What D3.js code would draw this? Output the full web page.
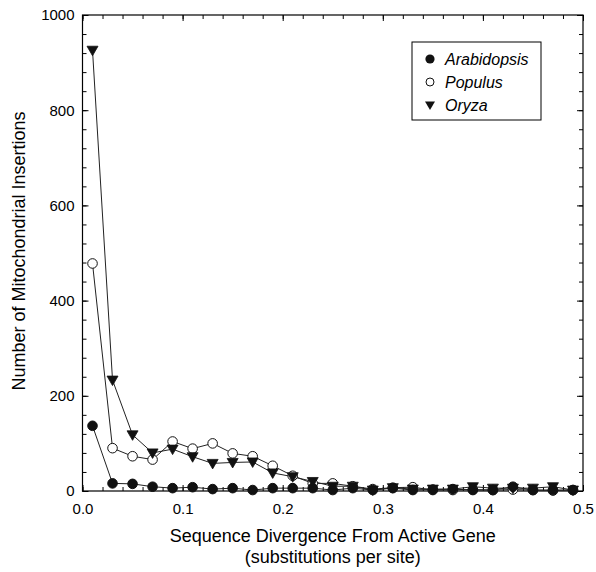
<!DOCTYPE html>
<html><head><meta charset="utf-8">
<script src="https://cdn.jsdelivr.net/npm/d3@7"></script>
<style>body{margin:0;background:#fff;}svg{display:block;font-family:"Liberation Sans",Arial,sans-serif;}</style>
</head><body><div id="chart"></div>
<script>
const xValues = [0.01,0.03,0.05,0.07,0.09,0.11,0.13,0.15,0.17,0.19,0.21,0.23,0.25,0.27,0.29,0.31,0.33,0.35,0.37,0.39,0.41,0.43,0.45,0.47,0.49];
const arabidopsis = [137,16,15,9,6,8,4,6,2,6,6,6,2,6,2,6,2,3,4,2,2,9,2,2,2];
const populus = [478,90,73,66,104,89,100,79,73,53,32,16,16,10,4,7,8,2,2,3,2,3,2,1,2];
const oryza = [926,233,118,80,88,72,58,60,61,38,30,20,10,10,2,7,4,4,4,9,6,6,6,9,2];
const seriesNames = ["Arabidopsis","Populus","Oryza"];
const xTicks = [0,0.1,0.2,0.3,0.4,0.5];
const yTicks = [0,200,400,600,800,1000];

const W=596,H=572;
const m={left:82.5,right:13,top:15,bottom:81};
const svg=d3.select("#chart").append("svg").attr("width",W).attr("height",H);
const x=d3.scaleLinear().domain([0,0.5]).range([m.left,W-m.right]);
const y=d3.scaleLinear().domain([0,1000]).range([H-m.bottom,m.top]);

svg.append("rect").attr("x",x(0)).attr("y",y(1000)).attr("width",x(0.5)-x(0)).attr("height",y(0)-y(1000))
 .attr("fill","none").attr("stroke","#000").attr("stroke-width",1.2);

const xMinor=d3.range(0,0.5001,0.02), yMinor=d3.range(0,1000.1,40);
function tickAxes(){
  const bx=svg.append("g").attr("transform",`translate(0,${y(0)})`)
   .call(d3.axisBottom(x).tickValues(xTicks).tickSize(-6).tickPadding(12).tickFormat(d3.format(".1f")));
  bx.append("g").call(d3.axisBottom(x).tickValues(xMinor).tickSize(-4).tickFormat(""));
  const tx=svg.append("g").attr("transform",`translate(0,${y(1000)})`)
   .call(d3.axisTop(x).tickValues(xTicks).tickSize(-6).tickFormat(""));
  tx.append("g").call(d3.axisTop(x).tickValues(xMinor).tickSize(-4).tickFormat(""));
  const ly=svg.append("g").attr("transform",`translate(${x(0)},0)`)
   .call(d3.axisLeft(y).tickValues(yTicks).tickSize(-6).tickPadding(8).tickFormat(d3.format("d")));
  ly.append("g").call(d3.axisLeft(y).tickValues(yMinor).tickSize(-4).tickFormat(""));
  const ry=svg.append("g").attr("transform",`translate(${x(0.5)},0)`)
   .call(d3.axisRight(y).tickValues(yTicks).tickSize(-6).tickFormat(""));
  ry.append("g").call(d3.axisRight(y).tickValues(yMinor).tickSize(-4).tickFormat(""));
  svg.selectAll(".domain").remove();
  svg.selectAll(".tick line").attr("stroke","#000").attr("stroke-width",1);
  svg.selectAll(".tick text").attr("font-size",15).attr("fill","#000").attr("font-family","Liberation Sans, Arial, sans-serif");
}
tickAxes();

const line=d3.line().x((d,i)=>x(xValues[i])).y(d=>y(d));
const data=[arabidopsis,populus,oryza];
const types=["circleF","circleO","tri"];
data.forEach(s=>{
  svg.append("path").datum(s).attr("d",line).attr("fill","none").attr("stroke","#222").attr("stroke-width",1);
});
function marker(sel,type){
  if(type==="tri"){
    sel.append("path").attr("d","M-5.5,-4 L5.5,-4 L0,5.5 Z").attr("fill","#111").attr("stroke","#111").attr("stroke-width",0.8);
  } else {
    sel.append("circle").attr("r",4.8).attr("fill",type==="circleF"?"#111":"#fff").attr("stroke","#111").attr("stroke-width",1);
  }
}
[1,0,2].forEach(k=>{
  data[k].forEach((v,i)=>{
    const gg=svg.append("g").attr("transform",`translate(${x(xValues[i])},${y(v)})`);
    marker(gg,types[k]);
  });
});

const lg=svg.append("g");
lg.append("rect").attr("x",412).attr("y",42).attr("width",129).attr("height",78).attr("fill","#fff").attr("stroke","#000").attr("stroke-width",1);
seriesNames.forEach((n,i)=>{
  const yy=[59,82,105][i];
  const mg=lg.append("g").attr("transform",`translate(430,${yy})`);
  if(i===0) mg.append("circle").attr("r",4.6).attr("fill","#111");
  else if(i===1) mg.append("circle").attr("r",4).attr("fill","#fff").attr("stroke","#111");
  else mg.append("path").attr("d","M-5,-3.5 L5,-3.5 L0,5 Z").attr("fill","#111");
  lg.append("text").attr("x",445).attr("y",yy+5.5).attr("font-size",16).attr("font-style","italic").text(n);
});

svg.append("text").attr("x",(x(0)+x(0.5))/2).attr("y",542).attr("text-anchor","middle").attr("font-size",18).text("Sequence Divergence From Active Gene");
svg.append("text").attr("x",(x(0)+x(0.5))/2).attr("y",563).attr("text-anchor","middle").attr("font-size",18).text("(substitutions per site)");
svg.append("text").attr("transform",`translate(24.5,251) rotate(-90)`).attr("text-anchor","middle").attr("font-size",18).text("Number of Mitochondrial Insertions");
</script></body></html>
